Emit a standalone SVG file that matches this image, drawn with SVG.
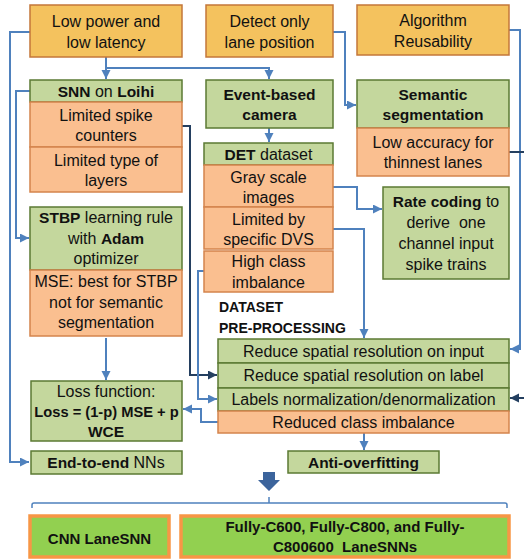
<svg xmlns="http://www.w3.org/2000/svg" width="524" height="560" viewBox="0 0 524 560">
<style>
text{font-family:"Liberation Sans",Arial,sans-serif;font-size:16px;fill:#111;text-anchor:middle}
.b{font-weight:bold;font-size:15.5px}
tspan.b{font-size:15.5px}
.y{fill:#F4C25E;stroke:#C4773A;stroke-width:1.5}
.g{fill:#C4D79D;stroke:#5B7A33;stroke-width:1.5}
.o{fill:#FABF90;stroke:#D4844C;stroke-width:1.5}
.f{fill:#92D050;stroke:#F79646;stroke-width:3.5}
.c{fill:none;stroke:#4F81BD;stroke-width:2}
.n{fill:none;stroke:#243F60;stroke-width:2}
</style>
<defs>
<marker id="ab" markerUnits="userSpaceOnUse" markerWidth="10" markerHeight="10" refX="9" refY="4.5" orient="auto"><path d="M0,0 L9,4.5 L0,9 z" fill="#4F81BD"/></marker>
<marker id="an" markerUnits="userSpaceOnUse" markerWidth="10" markerHeight="10" refX="9" refY="4.5" orient="auto"><path d="M0,0 L9,4.5 L0,9 z" fill="#243F60"/></marker>
</defs>

<g id="connectors">
<path class="c" d="M30,32 H10 V462 H29" marker-end="url(#ab)"/>
<path class="c" d="M106,57 V79" marker-end="url(#ab)"/>
<path class="c" d="M106,68 H269 V79" marker-end="url(#ab)"/>
<path class="c" d="M30,91 H16 V238 H29" marker-end="url(#ab)"/>
<path class="c" d="M269,128 V142" marker-end="url(#ab)"/>
<path class="c" d="M333,32 H345 V105 H356" marker-end="url(#ab)"/>
<path class="c" d="M509,30 H520 V349 H510" marker-end="url(#ab)"/>
<path class="n" d="M509,152 H524"/>
<path class="n" d="M524,398 H510" marker-end="url(#an)"/>
<path class="n" d="M182,126 H190 V375 H217" marker-end="url(#an)"/>
<path class="c" d="M204,271 H198 V399 H217" marker-end="url(#ab)"/>
<path class="c" d="M218,422 H201 V409 H183" marker-end="url(#ab)"/>
<path class="c" d="M106,338 V380" marker-end="url(#ab)"/>
<path class="c" d="M333,187 H357 V209 H382" marker-end="url(#ab)"/>
<path class="c" d="M333,229 H364 V338" marker-end="url(#ab)"/>
<path class="c" d="M364,433 V450" marker-end="url(#ab)"/>
<path d="M263,472 H275 V480 H280 L269,491 L258,480 H263 Z" fill="#3C649C"/>
<path d="M32,508 V505 Q32,503 34,503 H505 Q507,503 507,505 V508 M269,503 V497" fill="none" stroke="#4F81BD" stroke-width="1.5"/>
</g>

<g id="low-power"><rect class="y" x="30" y="5" width="152" height="52"/><text x="106" y="27">Low power and</text><text x="106" y="48">low latency</text></g>
<g id="detect-lane"><rect class="y" x="206" y="5" width="127" height="52"/><text x="269.5" y="27">Detect only</text><text x="269.5" y="48">lane position</text></g>
<g id="algorithm-reusability"><rect class="y" x="357" y="5" width="152" height="50"/><text x="433" y="26">Algorithm</text><text x="433" y="47">Reusability</text></g>

<g id="snn-loihi"><rect class="g" x="30" y="80" width="152" height="22"/><text x="106" y="97"><tspan class="b">SNN</tspan> on <tspan class="b">Loihi</tspan></text></g>
<g id="limited-spike"><rect class="o" x="30" y="102" width="152" height="45"/><text x="106" y="121">Limited spike</text><text x="106" y="141">counters</text></g>
<g id="limited-layers"><rect class="o" x="30" y="147" width="152" height="45"/><text x="106" y="166">Limited type of</text><text x="106" y="186">layers</text></g>

<g id="event-camera"><rect class="g" x="206" y="80" width="127" height="48"/><text class="b" x="269.5" y="100">Event-based</text><text class="b" x="269.5" y="120">camera</text></g>
<g id="det-dataset"><rect class="g" x="204" y="143" width="129" height="22"/><text x="268.5" y="160"><tspan class="b">DET</tspan> dataset</text></g>
<g id="gray-scale"><rect class="o" x="204" y="165" width="129" height="42"/><text x="268.5" y="183">Gray scale</text><text x="268.5" y="203">images</text></g>
<g id="limited-dvs"><rect class="o" x="204" y="207" width="129" height="42"/><text x="268.5" y="225">Limited by</text><text x="268.5" y="245">specific DVS</text></g>
<g id="high-class"><rect class="o" x="204" y="251" width="129" height="41"/><text x="268.5" y="267">High class</text><text x="268.5" y="288">imbalance</text></g>

<g id="semantic-seg"><rect class="g" x="357" y="80" width="152" height="48"/><text class="b" x="433" y="100">Semantic</text><text class="b" x="433" y="120">segmentation</text></g>
<g id="low-accuracy"><rect class="o" x="357" y="128" width="152" height="48"/><text x="433" y="148">Low accuracy for</text><text x="433" y="168">thinnest lanes</text></g>

<g id="rate-coding"><rect class="g" x="383" y="187" width="126" height="92"/><text x="446" y="207"><tspan class="b">Rate coding</tspan> to</text><text x="446" y="228" xml:space="preserve">derive  one</text><text x="446" y="249">channel input</text><text x="446" y="270">spike trains</text></g>

<g id="stbp"><rect class="g" x="30" y="207" width="152" height="63"/><text x="106" y="223"><tspan class="b">STBP</tspan> learning rule</text><text x="106" y="244">with <tspan class="b">Adam</tspan></text><text x="106" y="264">optimizer</text></g>
<g id="mse"><rect class="o" x="30" y="270" width="152" height="66"/><text x="106" y="287">MSE: best for STBP</text><text x="106" y="308">not for semantic</text><text x="106" y="328">segmentation</text></g>

<g id="loss-function"><rect class="g" x="31" y="381" width="151" height="60"/><text x="106" y="397">Loss function:</text><text class="b" x="106.5" y="417" style="font-size:14.7px">Loss = (1-p) MSE + p</text><text class="b" x="106" y="437">WCE</text></g>
<g id="end-to-end"><rect class="g" x="31" y="451" width="151" height="23"/><text x="106" y="468"><tspan class="b">End-to-end</tspan> NNs</text></g>

<g id="dataset-preprocessing">
<text class="b" x="219" y="312" style="text-anchor:start;font-size:14px">DATASET</text>
<text class="b" x="219" y="333" style="text-anchor:start;font-size:14px">PRE-PROCESSING</text>
<rect class="g" x="218" y="339" width="291" height="24"/><text x="363.5" y="357">Reduce spatial resolution on input</text>
<rect class="g" x="218" y="363" width="291" height="25"/><text x="363.5" y="381">Reduce spatial resolution on label</text>
<rect class="g" x="218" y="388" width="291" height="23"/><text x="363.5" y="405">Labels normalization/denormalization</text>
<rect class="o" x="218" y="411" width="291" height="22"/><text x="363.5" y="428">Reduced class imbalance</text>
</g>
<g id="anti-overfitting"><rect class="g" x="288" y="451" width="151" height="22"/><text class="b" x="363.5" y="468">Anti-overfitting</text></g>

<g id="cnn-lanesnn"><rect class="f" x="30" y="516" width="139" height="41"/><text class="b" x="99.5" y="544" style="font-size:15px">CNN LaneSNN</text></g>
<g id="fully-lanesnns"><rect class="f" x="181" y="516" width="328" height="41"/><text class="b" x="345" y="532" style="font-size:15px">Fully-C600, Fully-C800, and Fully-</text><text class="b" x="345" y="552" style="font-size:15px" xml:space="preserve">C800600  LaneSNNs</text></g>
</svg>
